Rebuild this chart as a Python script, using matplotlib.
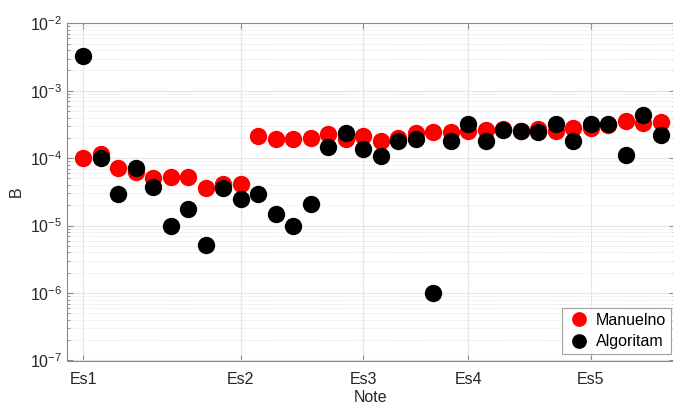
import numpy as np
import matplotlib
matplotlib.use('Agg')
import matplotlib.pyplot as plt
from matplotlib.ticker import LogLocator, NullFormatter

plt.rcParams['font.family'] = ['Liberation Sans', 'DejaVu Sans']

# note index for each measurement
notes = list(range(34))
tickPos = [0, 9, 16, 22, 29]
tickNames = ['Es1', 'Es2', 'Es3', 'Es4', 'Es5']

manuelno = [1.0e-4, 1.15e-4, 7.2e-5, 6.3e-5, 5.1e-5, 5.2e-5, 5.2e-5, 3.6e-5, 4.2e-5, 4.2e-5,
            2.15e-4, 1.92e-4, 1.9e-4, 2.0e-4, 2.25e-4, 1.9e-4, 2.15e-4, 1.81e-4, 1.97e-4, 2.33e-4,
            2.42e-4, 2.42e-4, 2.5e-4, 2.61e-4, 2.67e-4, 2.55e-4, 2.7e-4, 2.55e-4, 2.77e-4, 2.8e-4,
            3.1e-4, 3.59e-4, 3.28e-4, 3.4e-4]
algoritam = [3.27e-3, 1.0e-4, 2.9e-5, 7.2e-5, 3.7e-5, 1.0e-5, 1.74e-5, 5.2e-6, 3.6e-5, 2.45e-5,
             2.93e-5, 1.5e-5, 1.0e-5, 2.06e-5, 1.45e-4, 2.38e-4, 1.37e-4, 1.06e-4, 1.78e-4, 1.92e-4,
             1.0e-6, 1.8e-4, 3.2e-4, 1.8e-4, 2.6e-4, 2.5e-4, 2.42e-4, 3.2e-4, 1.81e-4, 3.2e-4,
             3.2e-4, 1.11e-4, 4.36e-4, 2.2e-4]

fig = plt.figure(figsize=(6.73, 4.07), dpi=100)
ax = fig.add_axes([66.7/673, 1-360.5/407, (675-66.7)/673, (360.5-23.3)/407])

ax.plot(notes, manuelno, 'o', color='#ff0000', markersize=12.5, markeredgewidth=0, label='Manuelno')
ax.plot(notes, algoritam, 'o', color='#000000', markersize=12.5, markeredgewidth=0, label='Algoritam')

ax.set_yscale('log')
ax.set_ylim(1e-7, 1e-2)
ax.set_xlim(-0.95, 33.8)
ax.set_xticks(tickPos)
ax.set_xticklabels(tickNames)
ax.yaxis.set_minor_locator(LogLocator(base=10, subs=np.arange(2, 10), numticks=20))
ax.yaxis.set_minor_formatter(NullFormatter())

ax.grid(True, which='major', color='#e6e6e6', linewidth=0.8)
ax.grid(True, which='minor', axis='y', color='#dedede', linestyle=':', linewidth=0.7)
ax.set_axisbelow(True)

for s in ax.spines.values():
    s.set_color('#8a8a8a')
    s.set_linewidth(0.8)
ax.tick_params(which='both', direction='in', top=True, right=True, colors='#8a8a8a',
               labelcolor='#262626', labelsize=11.5)
ax.tick_params(which='major', length=4)
ax.tick_params(which='minor', length=2)
ax.tick_params(axis='x', pad=8)

ax.set_xlabel('Note', fontsize=11.5, color='#262626', labelpad=2.5)
ax.set_ylabel('B', fontsize=11.5, color='#262626', labelpad=4)

leg = ax.legend(loc='lower right', fontsize=11.5, frameon=True, fancybox=False, markerscale=0.85,
                borderpad=0.3, handletextpad=0.3, labelspacing=0.4, handlelength=1.5,
                borderaxespad=0, bbox_to_anchor=(671/673, 1-354/407),
                bbox_transform=fig.transFigure)
leg.get_frame().set_edgecolor('#8a8a8a')
leg.get_frame().set_linewidth(0.8)

plt.savefig('out.png', dpi=100)
